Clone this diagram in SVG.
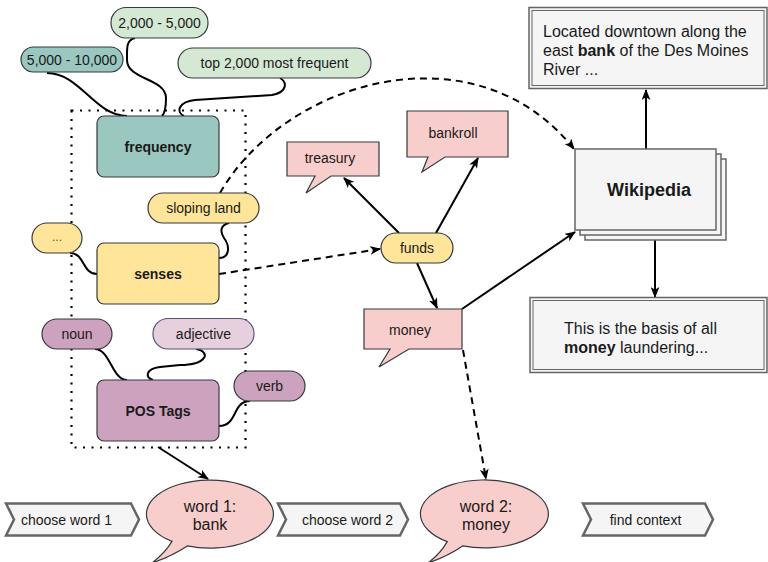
<svg xmlns="http://www.w3.org/2000/svg" width="768" height="562" viewBox="0 0 768 562">
<style>
text{font-family:"Liberation Sans",Arial,sans-serif;fill:#1a1a1a;}
.t14{font-size:14px;text-anchor:middle;}
.b14{font-size:14px;font-weight:bold;text-anchor:middle;}
.t16{font-size:16px;}
.c16{font-size:16px;text-anchor:middle;}
.teal{fill:#9AC7BF;stroke:#36393d;stroke-width:1.2;}
.green{fill:#D5E8D4;stroke:#36393d;stroke-width:1.2;}
.yel{fill:#FFE599;stroke:#36393d;stroke-width:1.2;}
.pur{fill:#CDA2BE;stroke:#36393d;stroke-width:1.2;}
.lpur{fill:#E6D0DE;stroke:#56517E;stroke-width:1.2;}
.pink{fill:#F8CECC;stroke:#36393d;stroke-width:1.2;}
.gray{fill:#F5F5F5;stroke:#666666;stroke-width:1.5;}
.chev{fill:#F5F5F5;stroke:#666666;stroke-width:2.5;}
.cur{fill:none;stroke:#000;stroke-width:2;}
.arr{fill:none;stroke:#000;stroke-width:2;marker-end:url(#ah);}
.dash{fill:none;stroke:#000;stroke-width:2;stroke-dasharray:7 5;marker-end:url(#ah);}
</style>
<defs>
<marker id="ah" viewBox="0 0 10 8" refX="9" refY="4" markerWidth="11" markerHeight="9" markerUnits="userSpaceOnUse" orient="auto"><path d="M0,0 L10,4 L0,8 L2.5,4 Z" fill="#000"/></marker>
</defs>

<rect id="group-box" x="71.5" y="110.5" width="174" height="337" fill="none" stroke="#000" stroke-width="2.2" stroke-dasharray="2 6.5"/>

<g id="connectors">
<path class="cur" d="M47,73 C80,73 95,116 127,116"/>
<path class="cur" d="M135,38 C126,40 127,48 127,60 C127,80 166,78 166,98 C166,110 164,114 162,116"/>
<path class="cur" d="M280,78 C287,82 288,92 272,95 L195,100 C178,102 176,112 184,116"/>
<path class="cur" d="M229,223 C220,225 220,232 224,238 C230,246 230,258 219,258"/>
<path class="cur" d="M70,253 C85,253 82,274 97,274"/>
<path class="cur" d="M95,349 C110,349 112,380 127,380"/>
<path class="cur" d="M196,349 C212,352 206,365 180,365 L160,367 C145,369 145,378 153,380"/>
<path class="cur" d="M250,401 C232,401 238,426 219,426"/>
<path class="dash" d="M220,193 C285,80 475,25 574,149"/>
<path class="dash" d="M219,274 L380,249"/>
<path class="arr" d="M399,233 L344,178"/>
<path class="arr" d="M436,233 L478,158"/>
<path class="arr" d="M417,263 L437,308"/>
<path class="arr" d="M462,309 L575,232"/>
<path class="dash" d="M463,350 L486,479"/>
<path class="arr" d="M646,149 L646,90"/>
<path class="arr" d="M655,230 L655,297"/>
<path class="arr" d="M158,447 L208,479"/>
</g>

<g id="freq-5000-10000"><rect class="teal" x="21" y="47" width="102" height="25" rx="12.5"/><text class="t14" x="72" y="65">5,000 - 10,000</text></g>
<g id="freq-2000-5000"><rect class="green" x="111" y="7.5" width="97" height="30.5" rx="15"/><text class="t14" x="159.5" y="28">2,000 - 5,000</text></g>
<g id="freq-top2000"><rect class="green" x="178" y="48" width="193" height="30" rx="15"/><text class="t14" x="274.5" y="68">top 2,000 most frequent</text></g>
<g id="frequency"><rect class="teal" x="97" y="116" width="122" height="61" rx="7"/><text class="b14" x="158" y="151.5">frequency</text></g>

<g id="sense-sloping"><rect class="yel" x="148" y="193" width="111" height="30" rx="15"/><text class="t14" x="203.5" y="213">sloping land</text></g>
<g id="sense-more"><rect class="yel" x="32" y="223" width="50" height="30" rx="15"/><text class="t14" x="57" y="241" style="fill:#555;font-size:12px">...</text></g>
<g id="senses"><rect class="yel" x="97" y="243" width="122" height="61" rx="7"/><text class="b14" x="158" y="278.5">senses</text></g>

<g id="pos-noun"><rect class="pur" x="42" y="319" width="70" height="30" rx="15"/><text class="t14" x="77" y="339">noun</text></g>
<g id="pos-adjective"><rect class="lpur" x="153" y="318.5" width="101" height="30.5" rx="15"/><text class="t14" x="203.5" y="338.5">adjective</text></g>
<g id="pos-verb"><rect class="pur" x="234" y="371" width="71" height="30" rx="15"/><text class="t14" x="269.5" y="391">verb</text></g>
<g id="pos-tags"><rect class="pur" x="97" y="380" width="122" height="61" rx="7"/><text class="b14" x="158" y="415.5">POS Tags</text></g>

<g id="funds"><rect class="yel" x="381" y="233" width="72" height="30" rx="15"/><text class="t14" x="417" y="253">funds</text></g>
<g id="treasury"><path class="pink" d="M287,142 H379 V176 H331 L306,193 L315,176 H287 Z"/><text class="t14" x="330" y="163">treasury</text></g>
<g id="bankroll"><path class="pink" d="M407,111 H508 V157 H445 L422,172 L428,157 H407 Z"/><text class="t14" x="453" y="138">bankroll</text></g>
<g id="money"><path class="pink" d="M364,309 H462 V349 H409 L379,367 L390,349 H364 Z"/><text class="t14" x="410" y="335">money</text></g>

<g id="wikipedia">
<rect class="gray" x="585" y="159" width="141" height="81"/>
<rect class="gray" x="580" y="154" width="141" height="81"/>
<rect class="gray" x="575" y="149" width="141" height="81"/>
<text x="649" y="196" style="font-size:18px;font-weight:bold;text-anchor:middle">Wikipedia</text>
</g>

<g id="context-bank">
<rect x="529" y="7.5" width="238" height="81" fill="#F5F5F5" stroke="#666" stroke-width="1.5"/>
<rect x="532" y="10.5" width="232" height="75" fill="none" stroke="#666" stroke-width="1"/>
<text class="t16" x="543" y="37">Located downtown along the</text>
<text class="t16" x="543" y="56">east <tspan font-weight="bold">bank</tspan> of the Des Moines</text>
<text class="t16" x="543" y="75">River ...</text>
</g>
<g id="context-money">
<rect x="530" y="297.5" width="237" height="75" fill="#F5F5F5" stroke="#666" stroke-width="1.5"/>
<rect x="533" y="300.5" width="231" height="69" fill="none" stroke="#666" stroke-width="1"/>
<text class="t16" x="564" y="334">This is the basis of all</text>
<text class="t16" x="564" y="353"><tspan font-weight="bold">money</tspan> laundering...</text>
</g>

<g id="step-choose-1"><path class="chev" d="M6,503.5 H131 L139,519.5 L131,535.5 H6 L14,519.5 Z"/><text class="t14" x="66.5" y="524.5">choose word 1</text></g>
<g id="word1"><path class="pink" d="M187.3,545.9 A63.5,34 0 1 0 172,541.4 Q165,553 152,563 Q172,556 187.3,545.9 Z"/><text class="c16" x="210" y="512">word 1:</text><text class="c16" x="210" y="530">bank</text></g>
<g id="step-choose-2"><path class="chev" d="M278,503.5 H400 L408,519.5 L400,535.5 H278 L286,519.5 Z"/><text class="t14" x="347.5" y="524.5">choose word 2</text></g>
<g id="word2"><path class="pink" d="M462.6,545.9 A64,34 0 1 0 447.2,541.6 Q441,553 428,563 Q448,556 462.6,545.9 Z"/><text class="c16" x="486" y="512">word 2:</text><text class="c16" x="486" y="530">money</text></g>
<g id="step-find"><path class="chev" d="M583,503.5 H705 L713,519.5 L705,535.5 H583 L591,519.5 Z"/><text class="t14" x="645.5" y="524.5">find context</text></g>
</svg>
